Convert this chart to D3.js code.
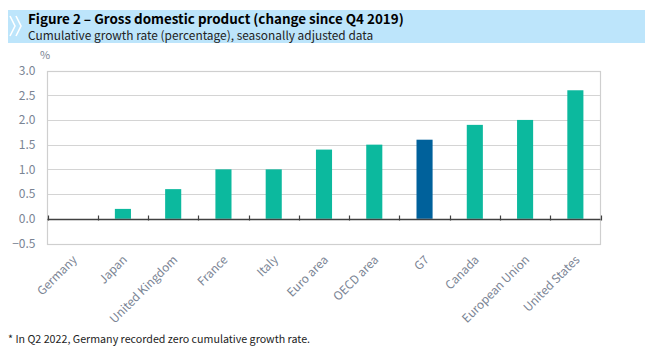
<!DOCTYPE html>
<html><head><meta charset="utf-8">
<script src="https://cdn.jsdelivr.net/npm/d3@7"></script>
<style>
body{margin:0;background:#fff;}
svg{display:block;}
</style></head>
<body><svg id="c" width="645" height="355"></svg>
<script>
const categories = ["Germany","Japan","United Kingdom","France","Italy","Euro area","OECD area","G7","Canada","European Union","United States"];
const values = [0, 0.2, 0.6, 1.0, 1.0, 1.4, 1.5, 1.6, 1.9, 2.0, 2.6];
const highlight = ["G7"];
const yTicks = [-0.5, 0, 0.5, 1.0, 1.5, 2.0, 2.5, 3.0];
const titleText = "Figure 2 – Gross domestic product (change since Q4 2019)";
const subtitleText = "Cumulative growth rate (percentage), seasonally adjusted data";
const unitText = "%";
const footnoteText = "* In Q2 2022, Germany recorded zero cumulative growth rate.";

const svg = d3.select("#c");
const F = "'Noto Sans CJK JP','Noto Sans',sans-serif";
const m = {l:47.5, r:600.5, t:70.5, b:243.5};

// header band
svg.append("rect").attr("x",8).attr("y",10).attr("width",637).attr("height",33).attr("fill","#bde5fb");
// chevrons
const chev = svg.append("g").attr("fill","none").attr("stroke","#ffffff").attr("stroke-width",1.6);
chev.append("path").attr("d","M10,16 L15,26 L10,36");
chev.append("path").attr("d","M16,16 L21,26 L16,36");
svg.append("text").attr("x",28).attr("y",23.5).attr("font-family",F).attr("font-weight","bold")
  .attr("font-size",13.4).attr("fill","#000").text(titleText);
svg.append("text").attr("x",28).attr("y",40).attr("font-family",F)
  .attr("font-size",11.9).attr("fill","#222").text(subtitleText);

const x = d3.scaleBand().domain(categories).range([m.l, m.r]).paddingInner(0.68).paddingOuter(0.34);
const xb = d3.scaleBand().domain(categories).range([m.l, m.r]).padding(0);
const y = d3.scaleLinear().domain([-0.5, 3.0]).range([m.b, m.t]);

// grid
svg.append("g").selectAll("line").data(yTicks.filter(d=>d!==0)).join("line")
  .attr("x1",m.l).attr("x2",m.r).attr("y1",d=>Math.round(y(d))+0.5).attr("y2",d=>Math.round(y(d))+0.5)
  .attr("stroke","#d4d4d4").attr("stroke-width",1.2);
// frame
svg.append("rect").attr("x",m.l).attr("y",Math.round(y(3))+0.5).attr("width",m.r-m.l)
  .attr("height",Math.round(y(-0.5))-Math.round(y(3))).attr("fill","none").attr("stroke","#cfcfcf").attr("stroke-width",1.2);

// bars
svg.append("g").selectAll("rect").data(categories).join("rect")
  .attr("x",(d)=>x(d)).attr("width",x.bandwidth())
  .attr("y",(d,i)=>y(Math.max(0,values[i]))).attr("height",(d,i)=>Math.abs(y(values[i])-y(0)))
  .attr("fill",d=>highlight.includes(d)?"#00619b":"#0cb99e");

// zero axis line with ticks
const y0 = Math.round(y(0))+0.5;
svg.append("line").attr("x1",m.l).attr("x2",m.r).attr("y1",y0).attr("y2",y0).attr("stroke","#404040").attr("stroke-width",1.3);
const tickPos = categories.map(c=>xb(c)).concat([m.r]);
svg.append("g").selectAll("line").data(tickPos).join("line")
  .attr("x1",d=>Math.round(d)+0.5).attr("x2",d=>Math.round(d)+0.5).attr("y1",y0-4).attr("y2",y0+1)
  .attr("stroke","#404040").attr("stroke-width",1.2);

// y axis labels
const yAxis = d3.axisLeft(y).tickValues(yTicks).tickFormat(d3.format(".1f")).tickSize(0).tickPadding(12);
const ya = svg.append("g").attr("transform",`translate(${m.l},0)`).call(yAxis);
ya.select(".domain").remove();
ya.selectAll("text").attr("font-family",F).attr("font-size",12).attr("fill","#7a8494");
svg.append("text").attr("x",45).attr("y",59).attr("text-anchor","middle").attr("font-family",F)
  .attr("font-size",11).attr("fill","#7a8494").text(unitText);

// x axis labels
const xAxis = d3.axisBottom(xb).tickSize(0).tickPadding(0);
const xa = svg.append("g").attr("transform",`translate(0,${m.b})`).call(xAxis);
xa.select(".domain").remove();
xa.selectAll("text").attr("font-family",F).attr("font-size",11.8).attr("fill","#7a8494")
  .attr("text-anchor","end").attr("dy",0).attr("y",0)
  .attr("transform","translate(5,17) rotate(-45)");

// footnote
svg.append("text").attr("x",8).attr("y",343).attr("font-family",F).attr("font-size",10.7)
  .attr("fill","#222").text(footnoteText);
</script></body></html>
